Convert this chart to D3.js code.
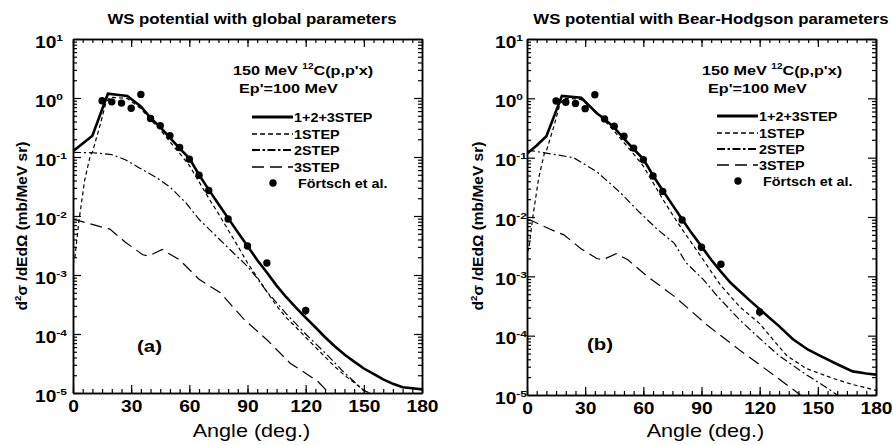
<!DOCTYPE html>
<html>
<head>
<meta charset="utf-8">
<script src="https://d3js.org/d3.v7.min.js"></script>
<style>
  body { margin: 0; background: #fff; }
  svg text { font-family: "Liberation Sans", Arial, sans-serif; fill: #000; }
  .axis path { stroke: #000; stroke-width: 1.5; }
  .axis line { stroke: #000; stroke-width: 1.2; }
</style>
</head>
<body>
<script>
// measured points (Förtsch et al.) - same in both panels
var expAngle = [15, 20, 25, 30, 35, 40, 45, 50, 55, 60, 65, 70, 80, 90, 100, 120];
var expValue = [0.9, 0.86, 0.82, 0.67, 1.15, 0.45, 0.34, 0.23, 0.145, 0.092, 0.049, 0.027, 0.0089, 0.0031, 0.0016, 0.00025];
var expErr   = [0, 0, 0, 0, 0, 0, 0, 0, 0, 0, 0, 0, 0, 0, 0, 0.00004];

// (a) global parameters
var aSumAngle = [0, 5, 10, 18, 28, 35, 40, 45, 50, 55, 60, 65, 70, 75, 80, 85, 90, 95, 100, 105, 110, 115, 120, 125, 130, 135, 140, 145, 150, 155, 160, 165, 170, 175, 180];
var aSum      = [0.125, 0.17, 0.23, 1.18, 1.08, 0.72, 0.46, 0.32, 0.21, 0.14, 0.095, 0.05, 0.028, 0.016, 0.0092, 0.0053, 0.0031, 0.0018, 0.0011, 0.00066, 0.00042, 0.00028, 0.00019, 0.00013, 0.000088, 0.000062, 0.000045, 0.000034, 0.000026, 0.000021, 0.000017, 0.0000143, 0.0000125, 0.000012, 0.0000115];
var aStep1Angle = [0, 1, 3, 6, 9, 10, 14, 17, 19, 25, 28, 35, 40, 45, 50, 55, 60, 65, 70, 75, 80, 85, 90, 95, 100, 105, 110, 115, 120, 125, 130, 135, 140, 145, 150, 153];
var aStep1      = [0.0015, 0.002, 0.008, 0.04, 0.11, 0.12, 0.35, 0.84, 1.03, 1.0, 0.98, 0.66, 0.43, 0.29, 0.18, 0.115, 0.072, 0.038, 0.02, 0.011, 0.0058, 0.0031, 0.0016, 0.00092, 0.00052, 0.0003, 0.00019, 0.00013, 0.000088, 0.00006, 0.000041, 0.000028, 0.00002, 0.000015, 0.000011, 0.00001];
var aStep2Angle = [0, 10, 20, 27, 34, 43, 50, 58, 65, 74, 82, 90, 95, 100, 110, 120, 130, 140, 150, 153];
var aStep2      = [0.12, 0.118, 0.11, 0.09, 0.066, 0.045, 0.031, 0.017, 0.0088, 0.0045, 0.0025, 0.0014, 0.00088, 0.00052, 0.00022, 0.0001, 0.000048, 0.000022, 0.000011, 0.00001];
var aStep3Angle = [0, 2, 14, 19, 27, 36, 39, 46, 55, 65, 76, 88, 100, 112, 126, 132];
var aStep3      = [0.0088, 0.0085, 0.0066, 0.006, 0.0036, 0.0022, 0.0021, 0.0027, 0.0018, 0.00085, 0.0005, 0.00018, 0.00008, 0.000032, 0.000016, 0.00001];

// (b) Bear-Hodgson parameters
var bSumAngle = [0, 5, 10, 18, 28, 36, 40, 45, 50, 55, 60, 65, 70, 75, 80, 85, 90, 95, 100, 105, 110, 115, 120, 125, 130, 137, 145, 151, 160, 168, 175, 180];
var bSum      = [0.117, 0.16, 0.23, 1.1, 1.02, 0.56, 0.45, 0.32, 0.21, 0.14, 0.095, 0.05, 0.028, 0.016, 0.0092, 0.0053, 0.0032, 0.0019, 0.0012, 0.00078, 0.00055, 0.00039, 0.00028, 0.0002, 0.000145, 0.000088, 0.000058, 0.000046, 0.000033, 0.000025, 0.000023, 0.000022];
var bStep1Angle = [0, 1, 3, 6, 9, 10, 14, 17, 19, 25, 28, 35, 40, 45, 50, 55, 60, 65, 70, 75, 80, 85, 90, 95, 100, 110, 120, 127, 134, 144, 158, 168, 180];
var bStep1      = [0.0025, 0.003, 0.01, 0.045, 0.12, 0.13, 0.35, 0.8, 1.0, 0.98, 0.95, 0.62, 0.42, 0.28, 0.18, 0.115, 0.072, 0.038, 0.02, 0.011, 0.0062, 0.0036, 0.0021, 0.0012, 0.0007, 0.0003, 0.00016, 0.000085, 0.000046, 0.000028, 0.000019, 0.000015, 0.000012];
var bStep2Angle = [0, 3, 24, 36, 48, 58, 67, 76, 82, 91, 98, 110, 120, 130, 144, 155, 160];
var bStep2      = [0.13, 0.13, 0.1, 0.058, 0.026, 0.012, 0.0063, 0.0036, 0.0017, 0.00088, 0.00047, 0.00018, 0.00009, 0.000046, 0.000022, 0.000013, 0.00001];
var bStep3Angle = [0, 2, 12, 19, 28, 36, 39, 46, 52, 62, 76, 93, 110, 127, 141];
var bStep3      = [0.009, 0.0088, 0.0062, 0.005, 0.0029, 0.002, 0.0019, 0.0024, 0.0019, 0.001, 0.00046, 0.00015, 0.000056, 0.000022, 0.00001];

var legendNames = ["1+2+3STEP", "1STEP", "2STEP", "3STEP", "Förtsch et al."];
var xTicks = [0, 30, 60, 90, 120, 150, 180];
var yDecades = [-5, -4, -3, -2, -1, 0, 1];

var SX = 1.2; // glyphs in the original are a bit wide

var svg = d3.select("body").append("svg")
  .attr("width", 893).attr("height", 445);

// text with optional superscripts: parts = [[string, isSup], ...]
function label(g, x, y, parts, size, weight, anchor, rot, sx) {
  var t = g.append("text")
    .attr("transform", "translate(" + x + "," + y + ")" + (rot ? " rotate(" + rot + ")" : "") + " scale(" + (sx || SX) + ",1)")
    .attr("font-size", size)
    .attr("font-weight", weight || "bold")
    .attr("text-anchor", anchor || "start");
  var up = false;
  parts.forEach(function(p) {
    var s = t.append("tspan").text(p[0]);
    if (p[1] && !up) { s.attr("font-size", size * 0.62).attr("dy", -size * 0.42); up = true; }
    else if (!p[1] && up) { s.attr("dy", size * 0.42); up = false; }
  });
  return t;
}

var styles = [
  { w: 2.6, dash: null, lw: 3, ldash: null },
  { w: 1.2, dash: "4,3", lw: 1.6, ldash: "5,3" },
  { w: 1.2, dash: "8,3,2,3", lw: 2.2, ldash: "8,2.5,2.5,2.5" },
  { w: 1.2, dash: "12,6", lw: 1.6, ldash: "12,6" }
];

function panel(p) {
  var g = svg.append("g");
  var x = d3.scaleLinear().domain([0, 180]).range([p.x0, p.x1]);
  var y = d3.scaleLog().domain([1e-5, 10]).range([p.y1, p.y0]);

  var minorY = [];
  yDecades.slice(0, -1).forEach(function(k) {
    for (var m = 2; m <= 9; m++) minorY.push(m * Math.pow(10, k));
  });
  var majorY = yDecades.map(function(k) { return Math.pow(10, k); });
  var minorX = d3.range(0, 181, 5);

  // frame with inward ticks on all four sides
  function ax(axis, tr) {
    return g.append("g").attr("class", "axis").attr("transform", tr).call(axis);
  }
  ax(d3.axisBottom(x).tickValues(minorX).tickSize(-4).tickSizeOuter(0).tickFormat(""), "translate(0," + p.y1 + ")");
  var bx = ax(d3.axisBottom(x).tickValues(xTicks).tickSize(-8).tickSizeOuter(0).tickFormat(""), "translate(0," + p.y1 + ")");
  ax(d3.axisTop(x).tickValues(minorX).tickSize(-4).tickSizeOuter(0).tickFormat(""), "translate(0," + p.y0 + ")");
  ax(d3.axisTop(x).tickValues(xTicks).tickSize(-8).tickSizeOuter(0).tickFormat(""), "translate(0," + p.y0 + ")");
  ax(d3.axisLeft(y).tickValues(minorY).tickSize(-4).tickSizeOuter(0).tickFormat(""), "translate(" + p.x0 + ",0)");
  var ly = ax(d3.axisLeft(y).tickValues(majorY).tickSize(-8).tickSizeOuter(0).tickFormat(""), "translate(" + p.x0 + ",0)");
  ax(d3.axisRight(y).tickValues(minorY).tickSize(-4).tickSizeOuter(0).tickFormat(""), "translate(" + p.x1 + ",0)");
  ax(d3.axisRight(y).tickValues(majorY).tickSize(-8).tickSizeOuter(0).tickFormat(""), "translate(" + p.x1 + ",0)");

  bx.selectAll(".tick").each(function(d) {
    label(d3.select(this), 0, 19, [[String(d), 0]], 16, "bold", "middle");
  });
  ly.selectAll(".tick").each(function(d) {
    var k = Math.round(Math.log10(d));
    label(d3.select(this), -p.labOff, 8, [["10", 0], [String(k), 1]], 16, "bold", "start");
  });

  // curves
  var clipId = "clip" + p.id;
  g.append("clipPath").attr("id", clipId).append("rect")
    .attr("x", p.x0).attr("y", p.y0).attr("width", p.x1 - p.x0).attr("height", p.y1 - p.y0);
  var line = d3.line().x(function(d) { return x(d[0]); }).y(function(d) { return y(d[1]); });
  var curves = g.append("g").attr("clip-path", "url(#" + clipId + ")");
  p.series.forEach(function(s, i) {
    curves.append("path")
      .datum(d3.zip(s[0], s[1]))
      .attr("d", line)
      .attr("fill", "none")
      .attr("stroke", "#000")
      .attr("stroke-width", styles[i].w)
      .attr("stroke-dasharray", styles[i].dash);
  });

  // data points with error bars
  var pts = d3.zip(expAngle, expValue, expErr);
  curves.selectAll("line.err").data(pts.filter(function(d) { return d[2] > 0; }))
    .enter().append("line")
    .attr("x1", function(d) { return x(d[0]); }).attr("x2", function(d) { return x(d[0]); })
    .attr("y1", function(d) { return y(d[1] + d[2]); }).attr("y2", function(d) { return y(d[1] - d[2]); })
    .attr("stroke", "#000").attr("stroke-width", 1.2);
  curves.selectAll("circle").data(pts).enter().append("circle")
    .attr("cx", function(d) { return x(d[0]); })
    .attr("cy", function(d) { return y(d[1]); })
    .attr("r", 3.7).attr("fill", "#000");

  // titles and texts
  label(g, p.titleX, 24, [[p.title, 0]], 14, "bold", "middle");
  label(g, p.hx, 75, [["150 MeV ", 0], ["12", 1], ["C(p,p'x)", 0]], 13.5, "bold");
  label(g, p.hx + 6, 93, [["Ep'=100 MeV", 0]], 13.5, "bold");
  label(g, p.tagX, p.tagY, [[p.tag, 0]], 17, "bold");
  label(g, (p.x0 + p.x1) / 2 + 4, 437, [["Angle (deg.)", 0]], 18, "normal", "middle");
  label(g, p.ylabX, 226, [["d", 0], ["2", 1], ["\u03c3 /dEd\u03a9 (mb/MeV sr)", 0]], 15.5, "bold", "middle", -90, 1);

  // legend
  var lg = g.append("g");
  legendNames.forEach(function(name, i) {
    var ry = p.legY[i];
    if (i < 4) {
      lg.append("line")
        .attr("x1", p.legX).attr("x2", p.legX + 41).attr("y1", ry).attr("y2", ry)
        .attr("stroke", "#000").attr("stroke-width", styles[i].lw)
        .attr("stroke-dasharray", styles[i].ldash);
      label(lg, p.legX + 42, ry + 4.5, [[name, 0]], 12, "bold");
    } else {
      lg.append("circle").attr("cx", p.legX + 21).attr("cy", ry).attr("r", 3.7).attr("fill", "#000");
      label(lg, p.legX + 46, ry + 4.5, [[name, 0]], 12, "bold");
    }
  });
}

panel({
  id: "a", x0: 73, x1: 422, y0: 39, y1: 393, labOff: 38,
  title: "WS potential with global parameters", titleX: 252,
  hx: 233, tag: "(a)", tagX: 137, tagY: 352, ylabX: 27,
  legX: 252, legY: [117, 134, 150, 167, 183],
  series: [[aSumAngle, aSum], [aStep1Angle, aStep1], [aStep2Angle, aStep2], [aStep3Angle, aStep3]]
});
panel({
  id: "b", x0: 527, x1: 876, y0: 39, y1: 395, labOff: 32,
  title: "WS potential with Bear-Hodgson parameters", titleX: 711,
  hx: 702, tag: "(b)", tagX: 587, tagY: 350, ylabX: 483,
  legX: 717, legY: [116, 133, 149, 165, 181],
  series: [[bSumAngle, bSum], [bStep1Angle, bStep1], [bStep2Angle, bStep2], [bStep3Angle, bStep3]]
});
</script>
</body>
</html>
